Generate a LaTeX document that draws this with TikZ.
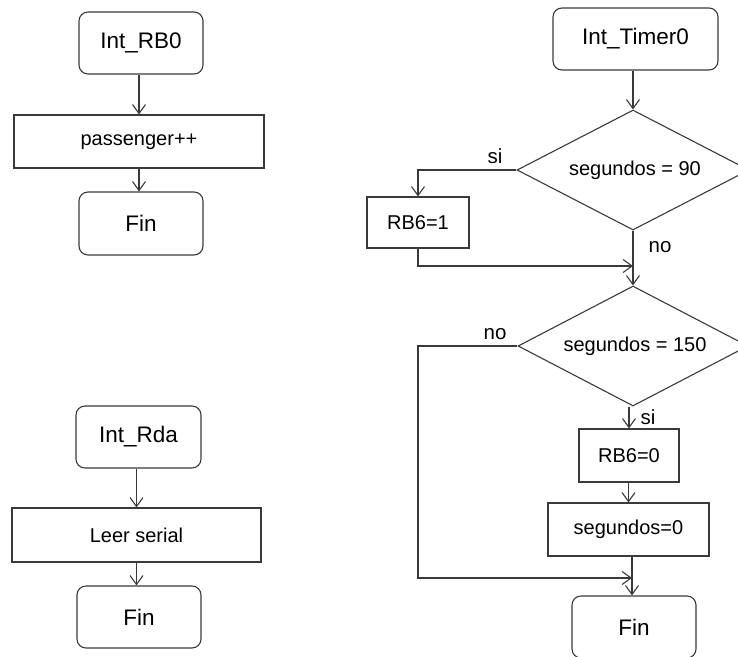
\documentclass[tikz,border=0pt]{standalone}
\usepackage{fontspec}
\setmainfont{Liberation Sans}
\usetikzlibrary{arrows.meta,shapes.geometric}
\definecolor{edge}{HTML}{3A3A3A}
\tikzset{
  base/.style={draw=edge, line width=1.1pt, inner sep=0pt, align=center,
    font=\fontsize{20}{24}\selectfont},
  term/.style={base, rounded corners=9pt, font=\fontsize{22.5}{26}\selectfont},
  proc/.style={base},
  dec/.style={base, diamond, aspect=1.93},
  arr/.style={draw=edge, line width=1.1pt, -{Straight Barb[length=9pt,width=13pt,line width=1.1pt]}},
  lbl/.style={font=\fontsize{20.5}{24}\selectfont, inner sep=0pt}
}
\begin{document}
\begin{tikzpicture}[x=1pt,y=-1pt]
\useasboundingbox (0,0) rectangle (738,656);
\clip (0,0) rectangle (738,656);

% Int_RB0 routine
\node[term, minimum width=124pt, minimum height=62pt] (rb0) at (141,43) {Int\_RB0};
\node[proc, minimum width=250pt, minimum height=53pt] (pass) at (139,141.5) {passenger++};
\node[term, minimum width=124pt, minimum height=63pt] (fin1) at (141,223.5) {Fin};
\draw[arr] (rb0.south -| pass.north) -- (pass.north);
\draw[arr] (pass.south) -- (pass.south |- fin1.north);

% Int_Rda routine
\node[term, minimum width=125pt, minimum height=62pt] (rda) at (138.5,437) {Int\_Rda};
\node[proc, minimum width=249pt, minimum height=54pt] (leer) at (136.5,535) {Leer serial};
\node[term, minimum width=124pt, minimum height=62pt] (fin2) at (139,617) {Fin};
\draw[arr] (rda.south -| leer.north) -- (leer.north);
\draw[arr] (leer.south) -- (leer.south |- fin2.north);

% Int_Timer0 routine
\node[term, minimum width=165pt, minimum height=62pt] (tm0) at (635.5,39) {Int\_Timer0};
\node[dec, minimum width=232pt, minimum height=120pt] (d1) at (633,170) {};
\node[font=\fontsize{20}{24}\selectfont] (t1) at (635,170) {segundos = 90};
\node[proc, minimum width=102pt, minimum height=51pt] (rb61) at (418,222.5) {RB6=1};
\node[dec, minimum width=230pt, minimum height=120pt] (d2) at (633,346) {};
\node[font=\fontsize{20}{24}\selectfont] (t2) at (635,346) {segundos = 150};
\node[proc, minimum width=100pt, minimum height=53pt] (rb60) at (629,455.5) {RB6=0};
\node[proc, minimum width=161pt, minimum height=53pt] (seg0) at (628.5,529.5) {segundos=0};
\node[term, minimum width=124pt, minimum height=62pt] (fin3) at (634,627) {Fin};

\coordinate (j1) at (633,266);
\coordinate (j2) at (632,578);
\coordinate (k2) at (418,578);

\draw[arr] (tm0.south -| d1.north) -- (d1.north);
\draw[arr] (d1.west) -| (rb61.north);
\draw[arr] (rb61.south) |- (j1);
\draw[arr] (d1.south) -- (d2.north);
\draw[arr] (d2.west) -| (k2) -- (j2);
\draw[arr] (d2.south -| rb60.north) -- (rb60.north);
\draw[arr] (rb60.south -| seg0.north) -- (seg0.north);
\draw[arr] (seg0.south -| j2) -- (j2 |- fin3.north);

\node[lbl] (si1) at (495,156) {si};
\node[lbl] (no1) at (660,247) {no};
\node[lbl] (no2) at (495,334) {no};
\node[lbl] (si2) at (648,417) {si};
\end{tikzpicture}
\end{document}
